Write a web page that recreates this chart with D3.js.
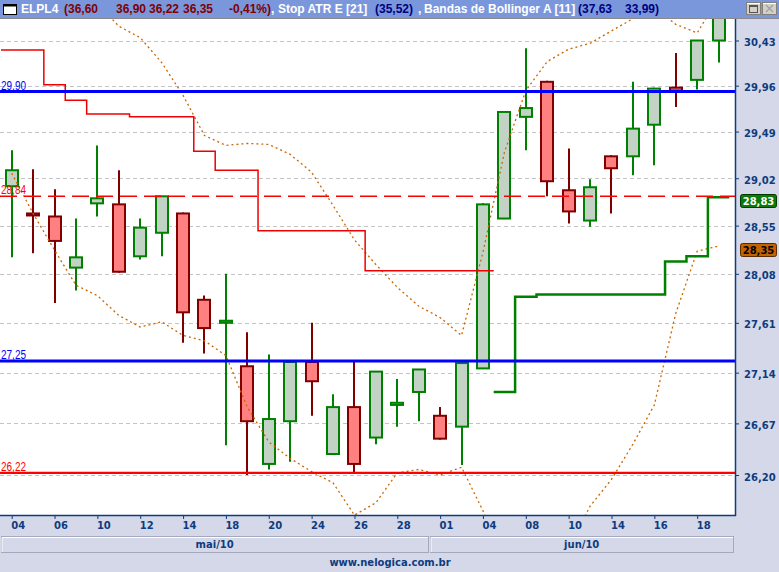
<!DOCTYPE html>
<html><head><meta charset="utf-8">
<script src="https://cdn.jsdelivr.net/npm/d3@7"></script>
<style>body{margin:0;background:#d4d8e8;}svg{display:block}</style>
</head><body><svg id="c" width="779" height="572"></svg>
<script>
// ---------------- DATA ----------------
const dates = ["04","05","06","07","10","11","12","13","14","17","18","19","20","21","24","25","26","27","28","31",
               "01","02","04","07","08","09","10","11","14","15","16","17","18","21"];
const monthLabels = ["mai/10","jun/10"];
const monthStart = [0,20];
const monthEnd = [19,33];
const openV  = [28.94,28.67,28.64,28.14,28.77,28.76,28.25,28.48,28.67,27.83,27.61,27.20,26.30,26.69,27.24,26.39,26.82,26.54,26.84,26.96,
                26.74,26.64,27.18,28.62,29.64,30.00,28.90,28.60,29.24,29.24,29.56,29.94,30.02,30.43];
const highV  = [29.30,29.11,28.91,28.62,29.35,29.10,28.62,28.84,28.68,27.87,28.08,27.52,27.31,27.25,27.61,26.94,27.25,27.15,27.08,27.17,
                26.82,27.24,28.77,29.70,30.35,30.01,29.32,29.01,29.25,30.00,29.94,30.30,30.43,30.75];
const lowV   = [28.24,28.28,27.80,27.92,28.64,28.09,28.22,28.25,27.42,27.32,26.47,26.20,26.25,26.32,26.74,26.39,26.21,26.48,26.64,26.69,
                26.52,26.29,27.18,28.62,29.30,28.84,28.57,28.54,28.67,29.05,29.15,29.74,29.92,30.20];
const closeV = [29.10,28.65,28.40,28.24,28.82,28.10,28.53,28.84,27.71,27.56,27.63,26.69,26.71,27.24,27.06,26.82,26.30,27.15,26.86,27.17,
                26.53,27.23,28.76,29.69,29.73,28.99,28.69,28.93,29.12,29.52,29.93,29.91,30.43,30.70];
const bbUpper = [31.20,31.10,31.00,30.90,30.82,30.58,30.46,30.20,29.86,29.45,29.35,29.37,29.36,29.26,29.08,28.75,28.41,28.17,27.95,27.77,
                 27.66,27.49,28.29,29.28,29.91,30.21,30.34,30.40,30.53,30.66,30.78,30.60,30.51,30.88];
const bbLower = [29.07,28.67,28.31,27.97,27.87,27.68,27.57,27.62,27.49,27.44,27.30,26.82,26.50,26.35,26.23,26.13,25.84,25.95,26.22,26.25,
                 26.20,26.27,25.88,25.40,25.10,25.20,25.55,25.92,26.16,26.48,26.84,27.70,28.30,28.35];
const stopShort = [30.33,30.33,29.97,29.81,29.67,29.67,29.64,29.64,29.64,29.29,29.10,29.10,28.50,28.50,28.50,28.50,28.50,28.11,28.11,28.11,
                   28.11,28.11,28.11,null,null,null,null,null,null,null,null,null,null,null];
const stopLong  = [null,null,null,null,null,null,null,null,null,null,null,null,null,null,null,null,null,null,null,null,
                   null,null,null,26.96,27.86,27.88,27.88,27.88,27.88,27.88,27.88,28.20,28.25,28.83];
const yTicks = [30.43,29.96,29.49,29.02,28.55,28.08,27.61,27.14,26.67,26.20];
const levelValues = [29.90,27.25,26.22,28.84];
const levelLabels = ["29,90","27,25","26,22","28,84"];
const levelColors = ["#0000ff","#0000ff","#ff0000","#ff0000"];

// ---------------- LAYOUT ----------------
const W=779,H=572;
const P={l:0,r:735,t:19,b:515};
const navy="#0e3c7e";
const fmt = v => v.toFixed(2).replace(".",",");
const svg=d3.select("#c");
const y=d3.scaleLog().domain([26.20,30.43]).range([475,40.5]);
const x=d3.scaleLinear().domain([0,33]).range([11.7,718.6]);
const step=x(1)-x(0);

svg.append("rect").attr("width",W).attr("height",H).attr("fill","#d4d8e8");
svg.append("rect").attr("x",P.l).attr("y",P.t).attr("width",P.r-P.l).attr("height",P.b-P.t).attr("fill","#ffffff");
svg.append("defs").append("clipPath").attr("id","clip").append("rect")
  .attr("x",P.l).attr("y",P.t).attr("width",P.r-P.l).attr("height",P.b-P.t);

// title bar
svg.append("rect").attr("x",0).attr("y",0).attr("width",W).attr("height",18).attr("fill","#7b97dc");
svg.append("line").attr("x1",0).attr("x2",W).attr("y1",18.5).attr("y2",18.5).attr("stroke","#8a8a8a");
const ic=svg.append("g");
ic.append("rect").attr("x",3.5).attr("y",4.5).attr("width",13).attr("height",10).attr("fill","#fff").attr("stroke","#000");
ic.append("rect").attr("x",3.5).attr("y",4.5).attr("width",13).attr("height",2).attr("fill","#000");
const tt=svg.append("text").attr("y",13).attr("font-family","Liberation Sans, Arial, sans-serif").attr("font-weight","bold").attr("font-size",12);
const segs=[["ELPL4",21,"#fff"],["(36,60",64,"#800000"],["36,90",116,"#800000"],["36,22",149,"#800000"],["36,35",183,"#800000"],
  ["-0,41%)",229,"#800000"],[",",271,"#fff"],["Stop ATR E [21]",278,"#fff"],["(35,52)",375,"#000080"],[",",418,"#fff"],
  ["Bandas de Bollinger A [11]",424,"#fff"],["(37,63",578,"#000080"],["33,99)",625,"#000080"]];
segs.forEach(s=>tt.append("tspan").attr("x",s[1]).attr("fill",s[2]).text(s[0]));
[[746,"max"],[762,"close"]].forEach(([bx,k])=>{
  const b=svg.append("g");
  b.append("rect").attr("x",bx+0.5).attr("y",2.5).attr("width",14).attr("height",12).attr("fill","#d4d0c8").attr("stroke","#808080");
  b.append("line").attr("x1",bx+1).attr("x2",bx+14).attr("y1",3.5).attr("y2",3.5).attr("stroke","#fff");
  if(k==="max"){b.append("rect").attr("x",bx+3.5).attr("y",5.5).attr("width",8).attr("height",7).attr("fill","none").attr("stroke","#555");
    b.append("line").attr("x1",bx+3.5).attr("x2",bx+11.5).attr("y1",6.5).attr("y2",6.5).attr("stroke","#555");}
  else{b.append("path").attr("d",`M${bx+4},5L${bx+11},12M${bx+11},5L${bx+4},12`).attr("stroke","#a0a0a0").attr("stroke-width",1.3);}
});

const plot=svg.append("g").attr("clip-path","url(#clip)");
// gridlines
plot.selectAll(".grid").data(yTicks).join("line")
  .attr("x1",P.l).attr("x2",P.r).attr("y1",d=>Math.round(y(d))+0.5).attr("y2",d=>Math.round(y(d))+0.5)
  .attr("stroke","#c4c4c4").attr("stroke-dasharray","4,3");

// candles
const candles=d3.range(dates.length).map(i=>({i,o:openV[i],h:highV[i],l:lowV[i],c:closeV[i]}));
const up=d=>d.c>=d.o;
plot.selectAll(".wick").data(candles).join("line")
  .attr("x1",d=>Math.round(x(d.i))).attr("x2",d=>Math.round(x(d.i)))
  .attr("y1",d=>y(d.h)).attr("y2",d=>y(d.l))
  .attr("stroke",d=>up(d)?"#008000":"#800000").attr("stroke-width",2);
plot.selectAll(".body").data(candles).join("rect")
  .attr("x",d=>Math.round(x(d.i))-6).attr("width",12)
  .attr("y",d=>y(Math.max(d.o,d.c))).attr("height",d=>Math.max(1.5,y(Math.min(d.o,d.c))-y(Math.max(d.o,d.c))))
  .attr("fill",d=>up(d)?"#c2d3c5":"#ff8080").attr("stroke",d=>up(d)?"#008000":"#800000").attr("stroke-width",2);

// bollinger
const bl=d3.line().x((d,i)=>x(i)).y(d=>y(d));
[bbUpper,bbLower].forEach(arr=>plot.append("path").attr("d",bl(arr)).attr("fill","none")
  .attr("stroke","#cc6600").attr("stroke-width",1.3).attr("stroke-dasharray","2,3"));

// stop ATR
function stepPath(vals){
  let d="",on=false;
  vals.forEach((v,i)=>{
    if(v==null){on=false;return;}
    const yy=y(v);
    d+=(on?"L":"M")+(x(i)-step/2)+","+yy+"L"+(x(i)+step/2)+","+yy;
    on=true;
  });
  return d;
}
plot.append("path").attr("d",stepPath(stopShort)).attr("fill","none").attr("stroke","#ee0000").attr("stroke-width",1.5);
plot.append("path").attr("d",stepPath(stopLong)).attr("fill","none").attr("stroke","#008000").attr("stroke-width",2.5);

// level lines
levelValues.forEach((v,k)=>{
  const yy=y(v);
  const dashed = k===3;
  plot.append("line").attr("x1",P.l).attr("x2",P.r).attr("y1",yy).attr("y2",yy)
    .attr("stroke",levelColors[k]).attr("stroke-width",dashed?1.5:(k===2?2.2:3))
    .attr("stroke-dasharray",dashed?"17,7":null);
  svg.append("text").attr("x",1).attr("y",yy-2).attr("fill",levelColors[k])
    .attr("font-family","Liberation Sans, Arial, sans-serif").attr("font-size",12)
    .attr("textLength",25).attr("lengthAdjust","spacingAndGlyphs").text(levelLabels[k]);
});

// right axis
const ya=svg.append("g").attr("transform",`translate(${P.r},0)`)
  .call(d3.axisRight(y).tickValues(yTicks).tickFormat(fmt).tickSize(4).tickPadding(5));
ya.select(".domain").remove();
ya.selectAll(".tick line").attr("stroke",navy);
ya.selectAll(".tick text").attr("fill",navy).attr("font-family","DejaVu Sans, sans-serif").attr("font-weight","bold").attr("font-size",10).attr("dy","0.5em");
svg.append("line").attr("x1",P.r+0.5).attr("x2",P.r+0.5).attr("y1",P.t).attr("y2",P.b+1).attr("stroke",navy).attr("stroke-width",1.5);

// value boxes
[[stopLong[33],"#0a7a0a","#003800","#fff"],[bbLower[33],"#c46200","#5a2a00","#000"]].forEach(([v,f,s,tc])=>{
  const yy=y(v)+3;
  svg.append("rect").attr("x",740.5).attr("y",Math.round(yy-6.5)+0.5).attr("width",36).attr("height",13).attr("rx",2)
    .attr("fill",f).attr("stroke",s);
  svg.append("text").attr("x",758.5).attr("y",Math.round(yy-6.5)+10.5).attr("text-anchor","middle").attr("fill",tc)
    .attr("font-family","DejaVu Sans, sans-serif").attr("font-weight","bold").attr("font-size",10).text(fmt(v));
});

// bottom axis
const evenIdx=d3.range(0,dates.length,2);
const xa=svg.append("g").attr("transform",`translate(0,${P.b})`)
  .call(d3.axisBottom(x).tickValues(evenIdx).tickFormat(i=>dates[i]).tickSize(4).tickPadding(3));
xa.select(".domain").remove();
xa.selectAll(".tick line").attr("stroke",navy);
xa.selectAll(".tick text").attr("fill",navy).attr("text-anchor","start").attr("dx",-1)
  .attr("font-family","DejaVu Sans, sans-serif").attr("font-weight","bold").attr("font-size",10);
svg.append("line").attr("x1",P.l).attr("x2",P.r+1).attr("y1",P.b+0.5).attr("y2",P.b+0.5).attr("stroke",navy).attr("stroke-width",1.5);

// month bars
monthLabels.forEach((m,k)=>{
  const x0=k===0?1:x(monthStart[k])-step/2+1;
  const x1=k===monthLabels.length-1?733:x(monthEnd[k])+step/2-1;
  const g=svg.append("g");
  g.append("rect").attr("x",Math.round(x0)+0.5).attr("y",536.5).attr("width",Math.round(x1-x0)).attr("height",16)
    .attr("fill","#d4d8e8").attr("stroke","#a4a8bc");
  g.append("path").attr("d",`M${Math.round(x0)+1},552V537.5H${Math.round(x1)}`).attr("stroke","#ffffff").attr("fill","none");
  g.append("text").attr("x",(x0+x1)/2).attr("y",548).attr("text-anchor","middle").attr("fill",navy)
    .attr("font-family","DejaVu Sans, sans-serif").attr("font-weight","bold").attr("font-size",10).text(m);
});
svg.append("text").attr("x",390).attr("y",566).attr("text-anchor","middle").attr("fill",navy)
  .attr("font-family","DejaVu Sans, sans-serif").attr("font-weight","bold").attr("font-size",10).text("www.nelogica.com.br");
</script></body></html>
